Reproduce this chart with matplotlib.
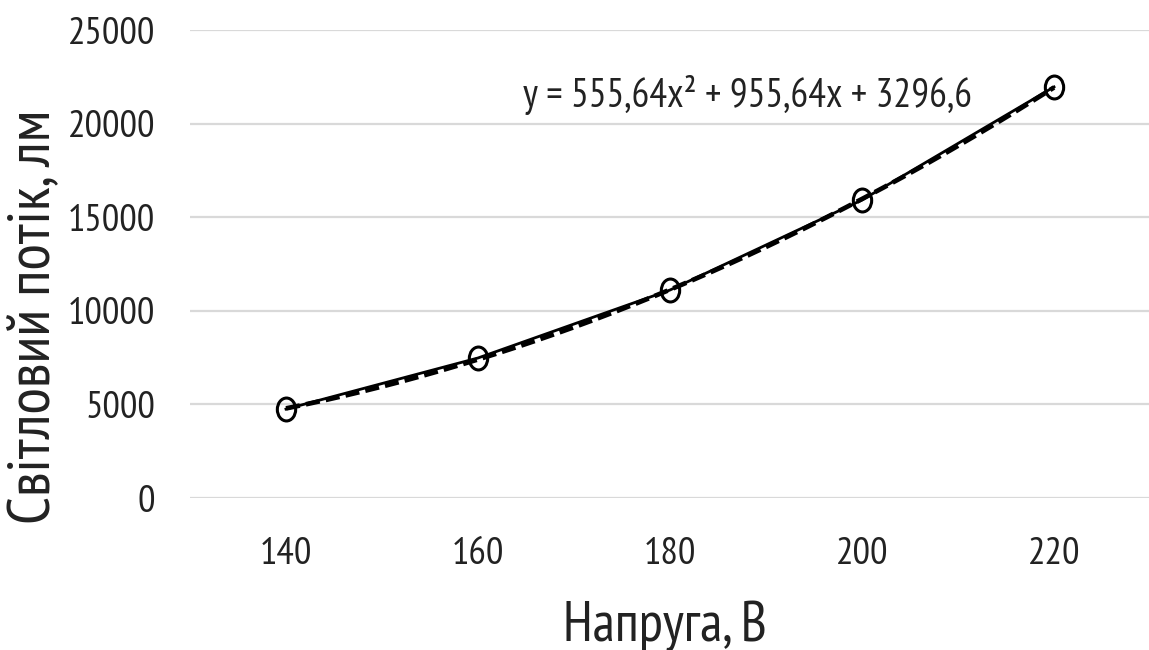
import numpy as np
import matplotlib
matplotlib.use("Agg")
import matplotlib.pyplot as plt
from matplotlib.path import Path
from matplotlib.transforms import Affine2D

# ---- data ----
categories = ["140", "160", "180", "200", "220"]
flux = [4750, 7480, 11110, 15920, 21960]
y_ticks = [0, 5000, 10000, 15000, 20000, 25000]
equation_label = "y = 555,64x² + 955,64x + 3296,6"
x_title = "Напруга, В"
y_title = "Світловий потік, лм"

plt.rcParams["font.family"] = ["PT Sans Narrow", "DejaVu Sans"]

txt = "#222222"
fig = plt.figure(figsize=(11.49, 6.5), dpi=100)
ax = fig.add_axes([190 / 1149, 152 / 650, 960 / 1149, 468 / 650])

x = np.arange(len(categories))
# polynomial trendline (order 2) fitted to the data, x = 1..n as in Excel
coef = np.polyfit(x + 1, flux, 2)
xf = np.linspace(0, len(categories) - 1, 200)
ax.plot(xf, np.polyval(coef, xf + 1), color="black", lw=3.4, ls=(0, (3, 1.3)), zorder=3)

ell = Path.unit_circle().transformed(Affine2D().scale(0.8, 1.0))
ax.plot(x, flux, color="black", lw=2, marker=ell, markersize=16.5, markerfacecolor="none",
        markeredgecolor="black", markeredgewidth=2.2, zorder=4)

ax.set_xlim(-0.5, len(categories) - 0.5)
ax.set_ylim(0, 25000)
ax.set_yticks(y_ticks)
ax.set_xticks(x)
ax.set_xticklabels(categories)
ax.yaxis.grid(True, color="#d9d9d9", lw=1.6)
ax.set_axisbelow(True)
for s in ax.spines.values():
    s.set_visible(False)
ax.tick_params(axis="both", length=0, labelsize=28, colors=txt)
ax.tick_params(axis="y", pad=25)
ax.tick_params(axis="x", pad=28)

fig.text(523 / 1149, (650 - 107) / 650, equation_label, fontsize=28.5, color=txt,
         ha="left", va="baseline")
fig.text(665 / 1149, 9 / 650, x_title, fontsize=40, color=txt, ha="center", va="baseline")
fig.text(34 / 1149, (650 - 317) / 650, y_title, fontsize=44, color=txt, ha="center",
         va="center", rotation=90)

fig.savefig("out.png", dpi=100)
